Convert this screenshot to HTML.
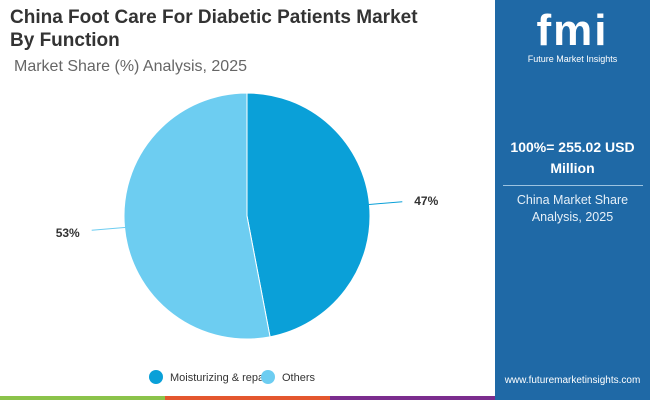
<!DOCTYPE html>
<html><head><meta charset="utf-8"><style>
body{margin:0;width:650px;height:400px;overflow:hidden;background:#fff;font-family:"Liberation Sans",sans-serif;position:relative}
.t{position:absolute;left:10px;top:6px;font-size:19px;font-weight:bold;color:#333;line-height:23px}
.st{position:absolute;left:14px;top:58px;font-size:16px;color:#666}
.side{position:absolute;left:495px;top:0;width:155px;height:400px;background:#1f69a6;color:#fff;text-align:center}
</style></head><body>
<div class="t">China Foot Care For Diabetic Patients Market<br>By Function</div>
<div class="st">Market Share (%) Analysis, 2025</div>
<svg id="c" width="495" height="400" style="position:absolute;left:0;top:0"></svg>
<div style="position:absolute;left:0;top:396px;width:165px;height:4px;background:#8bc34a"></div>
<div style="position:absolute;left:165px;top:396px;width:165px;height:4px;background:#e4572e"></div>
<div style="position:absolute;left:330px;top:396px;width:165px;height:4px;background:#7b2d8e"></div>
<div class="side">
<div style="font-size:44px;font-weight:bold;margin-top:6px;letter-spacing:2px">fmi</div>
<div style="font-size:9px;margin-top:-2px">Future Market Insights</div>
<div style="font-size:14px;font-weight:bold;margin-top:73px;line-height:21px">100%= 255.02 USD<br>Million</div>
<div style="width:140px;height:1px;background:#9cc3e0;margin:6px auto 6px"></div>
<div style="font-size:12.5px;line-height:17px;color:#e6f0f8">China Market Share<br>Analysis, 2025</div>
<div style="position:absolute;bottom:14px;width:100%;font-size:10px">www.futuremarketinsights.com</div>
</div>
<script>
const categories=["Moisturizing & repair","Others"];
const values=[47,53];
const colors=["#0aa0d8","#6dcdf1"];
const svg=document.getElementById('c');const NS="http://www.w3.org/2000/svg";
const cx=247,cy=216,r=123;
const total=values.reduce((a,b)=>a+b,0);
let a0=-Math.PI/2;
values.forEach((v,i)=>{
 const a1=a0+v/total*2*Math.PI;
 const p=document.createElementNS(NS,'path');
 const x0=cx+r*Math.cos(a0),y0=cy+r*Math.sin(a0),x1=cx+r*Math.cos(a1),y1=cy+r*Math.sin(a1);
 p.setAttribute('d',`M${cx},${cy}L${x0},${y0}A${r},${r} 0 ${a1-a0>Math.PI?1:0} 1 ${x1},${y1}Z`);
 p.setAttribute('fill',colors[i]);p.setAttribute('stroke','#fff');p.setAttribute('stroke-width','1');
 
 
 svg.appendChild(p);
 const am=(a0+a1)/2,c=Math.cos(am),s=Math.sin(am);
 const l=document.createElementNS(NS,'line');
 l.setAttribute('x1',cx+(r-3)*c);l.setAttribute('y1',cy+(r-3)*s);
 l.setAttribute('x2',cx+(r+33)*c);l.setAttribute('y2',cy+(r+33)*s-4*s);
 l.setAttribute('stroke',colors[i]);l.setAttribute('stroke-width','1');
 
 
 svg.appendChild(l);
 const t=document.createElementNS(NS,'text');
 t.setAttribute('x',cx+(r+45)*c+(c>0?0:0));t.setAttribute('y',cy+(r+45)*s+5);
 t.setAttribute('text-anchor',c>0?'start':'end');
 t.setAttribute('font-size','12');t.setAttribute('font-weight','bold');t.setAttribute('fill','#333');
 t.textContent=v+'%';
 
 
 svg.appendChild(t);
 a0=a1;
});
let lx=[156,268];
categories.forEach((cat,i)=>{
 const c=document.createElementNS(NS,'circle');
 c.setAttribute('cx',lx[i]);c.setAttribute('cy',377);c.setAttribute('r',7);c.setAttribute('fill',colors[i]);
 
 
 svg.appendChild(c);
 const t=document.createElementNS(NS,'text');
 t.setAttribute('x',lx[i]+14);t.setAttribute('y',381);t.setAttribute('font-size','11');t.setAttribute('fill','#333');
 t.textContent=cat;
 
 
 svg.appendChild(t);
});
</script>
</body></html>
